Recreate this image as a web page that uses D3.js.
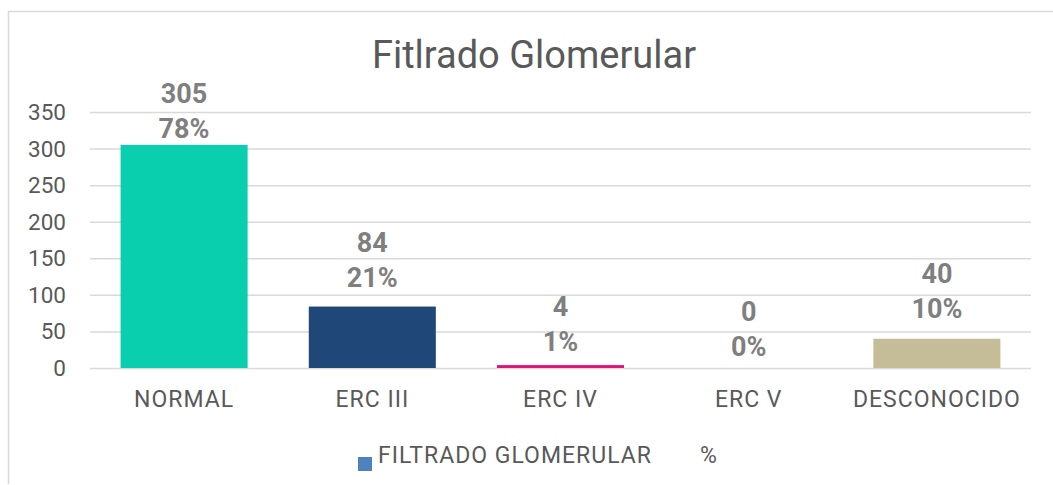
<!DOCTYPE html>
<html>
<head>
<meta charset="utf-8">
<script src="https://cdn.jsdelivr.net/npm/d3@7"></script>
<style>
  html, body { margin: 0; padding: 0; background: #fff; }
  svg { display: block; font-family: Roboto, "Noto Sans", sans-serif; }
</style>
</head>
<body>
<script>
// ---- data ----
const categories = ["NORMAL", "ERC III", "ERC IV", "ERC V", "DESCONOCIDO"];
const counts = [305, 84, 4, 0, 40];
const percents = ["78%", "21%", "1%", "0%", "10%"];
const barColors = ["#0ACFAE", "#1F4778", "#E0157A", "#7F7F7F", "#C4BD97"];
const yTicks = [0, 50, 100, 150, 200, 250, 300, 350];
const title = "Fitlrado Glomerular";
const legendItems = ["FILTRADO GLOMERULAR", "%"];

// ---- layout ----
const W = 1053, H = 485;
const plot = { left: 90, right: 1031, top: 112, bottom: 368 };
const labelOffsets = [7, 20, 14, 12, 21];

const svg = d3.select("body").append("svg").attr("width", W).attr("height", H);

// chart border (top + left visible)
svg.append("path")
  .attr("d", `M8.5,484 L8.5,11.5 L1053,11.5`)
  .attr("fill", "none").attr("stroke", "#d9d9d9").attr("stroke-width", 1.5);

const x = d3.scaleBand().domain(categories).range([plot.left, plot.right]).paddingInner(0.325).paddingOuter(0.1625);
const y = d3.scaleLinear().domain([0, 350]).range([plot.bottom, plot.top]);

// gridlines
const yAxis = d3.axisLeft(y).tickValues(yTicks).tickSize(-(plot.right - plot.left)).tickPadding(24);
const gy = svg.append("g").attr("transform", `translate(${plot.left},0)`).call(yAxis);
gy.select(".domain").remove();
gy.selectAll(".tick line").attr("stroke", "#d9d9d9").attr("stroke-width", 1.5);
gy.selectAll(".tick text").attr("fill", "#595959").attr("font-size", 22.5).attr("font-family", "Roboto").attr("dy", "0.33em");

// x axis labels
const xAxis = d3.axisBottom(x).tickSize(0);
const gx = svg.append("g").attr("transform", `translate(0,${plot.bottom})`).call(xAxis);
gx.select(".domain").remove();
gx.selectAll(".tick text").attr("fill", "#595959").attr("font-size", 23).attr("letter-spacing", 1)
  .attr("font-family", "Roboto").attr("y", 39).attr("dy", 0);

// bars
svg.append("g").selectAll("rect").data(categories).join("rect")
  .attr("x", d => x(d))
  .attr("width", x.bandwidth())
  .attr("y", (d, i) => y(counts[i]))
  .attr("height", (d, i) => y(0) - y(counts[i]))
  .attr("fill", (d, i) => barColors[i]);

// value labels
const lab = svg.append("g").attr("font-weight", "bold").attr("fill", "#7f7f7f").attr("font-size", 27).attr("text-anchor", "middle");
categories.forEach((c, i) => {
  const cx = x(c) + x.bandwidth() / 2;
  const base = y(counts[i]) - labelOffsets[i];
  lab.append("text").attr("x", cx).attr("y", base - 35).text(counts[i]);
  lab.append("text").attr("x", cx).attr("y", base).text(percents[i]);
});

// title
svg.append("text").attr("x", 534).attr("y", 68).attr("text-anchor", "middle")
  .attr("font-size", 38).attr("fill", "#595959").text(title);

// legend
const lg = svg.append("g");
lg.append("rect").attr("x", 358).attr("y", 457).attr("width", 14).attr("height", 14).attr("fill", "#4F81BD");
lg.append("text").attr("x", 378).attr("y", 463).attr("font-size", 23).attr("letter-spacing", 1).attr("fill", "#595959").text(legendItems[0]);
lg.append("text").attr("x", 700).attr("y", 463).attr("font-size", 23).attr("fill", "#595959").text(legendItems[1]);
</script>
</body>
</html>
